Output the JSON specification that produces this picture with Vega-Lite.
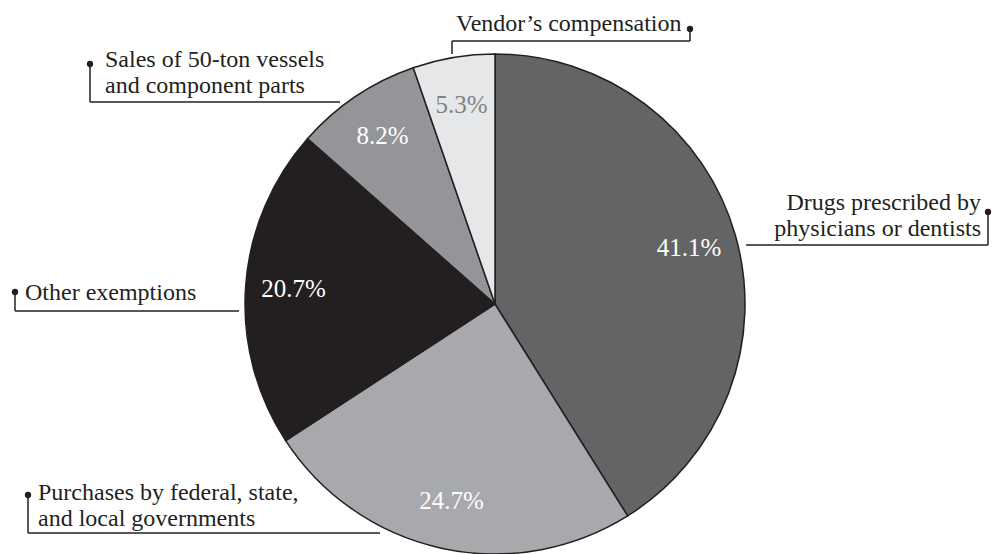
{
  "$schema": "https://vega.github.io/schema/vega-lite/v6.json",
  "width": 990,
  "height": 500,
  "autosize": {"type": "none"},
  "padding": {"left": 0, "top": 54, "right": 5, "bottom": 0},
  "background": "#ffffff",
  "config": {"view": {"stroke": null}, "font": "Liberation Serif"},
  "datasets": {
    "slices": [
      {"category": "Drugs prescribed by physicians or dentists", "share": 0.411, "rank": 1},
      {"category": "Purchases by federal, state, and local governments", "share": 0.247, "rank": 2},
      {"category": "Other exemptions", "share": 0.207, "rank": 3},
      {"category": "Sales of 50-ton vessels and component parts", "share": 0.082, "rank": 4},
      {"category": "Vendor’s compensation", "share": 0.053, "rank": 5}
    ],
    "labels": [
      {"category": "Drugs prescribed by physicians or dentists", "text": "Drugs prescribed by\nphysicians or dentists", "x": 1.944, "y": 0.376},
      {"category": "Purchases by federal, state, and local governments", "text": "Purchases by federal, state,\nand local governments", "x": -1.828, "y": -0.784},
      {"category": "Other exemptions", "text": "Other exemptions", "x": -1.88, "y": 0.016},
      {"category": "Sales of 50-ton vessels and component parts", "text": "Sales of 50-ton vessels\nand component parts", "x": -1.56, "y": 0.948},
      {"category": "Vendor’s compensation", "text": "Vendor’s compensation", "x": -0.156, "y": 1.092}
    ],
    "leaders": [
      {"x": -0.172, "y": 1.0, "x2": -0.172, "y2": 1.052},
      {"x": -0.172, "y": 1.052, "x2": 0.78, "y2": 1.052},
      {"x": 0.78, "y": 1.052, "x2": 0.78, "y2": 1.1},
      {"x": -1.62, "y": 0.96, "x2": -1.62, "y2": 0.808},
      {"x": -1.62, "y": 0.808, "x2": -0.62, "y2": 0.808},
      {"x": 1.972, "y": 0.368, "x2": 1.972, "y2": 0.236},
      {"x": 1.004, "y": 0.236, "x2": 1.972, "y2": 0.236},
      {"x": -1.92, "y": 0.048, "x2": -1.92, "y2": -0.028},
      {"x": -1.92, "y": -0.028, "x2": -1.024, "y2": -0.028},
      {"x": -1.868, "y": -0.764, "x2": -1.868, "y2": -0.916},
      {"x": -1.868, "y": -0.916, "x2": -0.46, "y2": -0.916}
    ],
    "dots": [
      {"x": 0.78, "y": 1.1},
      {"x": -1.62, "y": 0.96},
      {"x": 1.972, "y": 0.368},
      {"x": -1.92, "y": 0.048},
      {"x": -1.868, "y": -0.764}
    ]
  },
  "layer": [
    {
      "data": {"name": "slices"},
      "mark": {"type": "arc", "stroke": "#231f20", "strokeWidth": 1.5},
      "encoding": {
        "theta": {"field": "share", "type": "quantitative", "stack": true},
        "order": {"field": "rank", "type": "quantitative", "sort": "ascending"},
        "color": {
          "field": "category",
          "type": "nominal",
          "legend": null,
          "scale": {
            "domain": [
              "Drugs prescribed by physicians or dentists",
              "Purchases by federal, state, and local governments",
              "Other exemptions",
              "Sales of 50-ton vessels and component parts",
              "Vendor’s compensation"
            ],
            "range": ["#636466", "#a7a9ac", "#231f20", "#939598", "#e6e7e8"]
          }
        }
      }
    },
    {
      "data": {"name": "slices"},
      "mark": {"type": "text", "radius": 202, "fontSize": 25, "font": "Liberation Serif", "baseline": "middle", "align": "center"},
      "encoding": {
        "theta": {"field": "share", "type": "quantitative", "stack": true},
        "order": {"field": "rank", "type": "quantitative", "sort": "ascending"},
        "text": {"field": "share", "type": "quantitative", "format": ".1%"},
        "color": {
          "condition": {"test": "datum.rank === 5", "value": "#808285"},
          "value": "#ffffff"
        }
      }
    },
    {
      "data": {"name": "leaders"},
      "mark": {"type": "rule", "color": "#231f20", "strokeWidth": 1.5},
      "encoding": {
        "x": {"field": "x", "type": "quantitative", "scale": {"domain": [-1.98, 1.98], "nice": false, "zero": false}, "axis": null},
        "y": {"field": "y", "type": "quantitative", "scale": {"domain": [-1, 1], "nice": false, "zero": false}, "axis": null},
        "x2": {"field": "x2"},
        "y2": {"field": "y2"}
      }
    },
    {
      "data": {"name": "dots"},
      "mark": {"type": "circle", "color": "#231f20", "opacity": 1, "size": 40},
      "encoding": {
        "x": {"field": "x", "type": "quantitative"},
        "y": {"field": "y", "type": "quantitative"}
      }
    },
    {
      "data": {"name": "labels"},
      "transform": [{"filter": "indexof(datum.text, 'Drugs') < 0"}],
      "mark": {"type": "text", "align": "left", "baseline": "alphabetic", "lineBreak": "\n", "lineHeight": 26, "fontSize": 24, "font": "Liberation Serif", "color": "#231f20"},
      "encoding": {
        "x": {"field": "x", "type": "quantitative"},
        "y": {"field": "y", "type": "quantitative"},
        "text": {"field": "text"}
      }
    },
    {
      "data": {"name": "labels"},
      "transform": [{"filter": "indexof(datum.text, 'Drugs') >= 0"}],
      "mark": {"type": "text", "align": "right", "baseline": "alphabetic", "lineBreak": "\n", "lineHeight": 26, "fontSize": 24, "font": "Liberation Serif", "color": "#231f20"},
      "encoding": {
        "x": {"field": "x", "type": "quantitative"},
        "y": {"field": "y", "type": "quantitative"},
        "text": {"field": "text"}
      }
    }
  ]
}
